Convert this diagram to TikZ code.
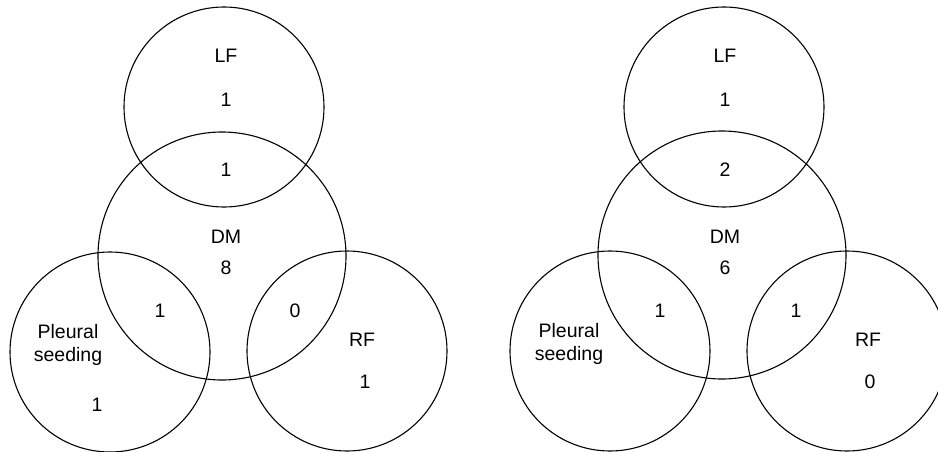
\documentclass[tikz,border=0pt]{standalone}
\usepackage{fontspec}
\setmainfont{Liberation Sans}
\begin{document}
\begin{tikzpicture}[x=1pt,y=-1pt,
  ring/.style={draw=black,line width=1.1pt,circle,inner sep=0pt,minimum size=#1},
  lbl/.style={font=\fontsize{19.5}{23.5}\selectfont,inner sep=0pt,align=center}]
\useasboundingbox (0,0) rectangle (938,452);
% left diagram
\node[ring=200pt] (aLF) at (224,107) {};
\node[ring=248pt] (aDM) at (222,256) {};
\node[ring=200pt] (aPS) at (110,352) {};
\node[ring=200pt] (aRF) at (347,351) {};
\node[lbl] (aLFt) at (226,56) {LF};
\node[lbl] (aLFn) at (226,100) {1};
\node[lbl] (aLD) at (226,170) {1};
\node[lbl] (aDMt) at (226,237) {DM};
\node[lbl] (aDMn) at (226,268) {8};
\node[lbl] (aPD) at (160,311) {1};
\node[lbl] (aRD) at (295,311) {0};
\node[lbl] (aPSt) at (68,345) {Pleural\\seeding};
\node[lbl] (aPSn) at (97,405) {1};
\node[lbl] (aRFt) at (362,340) {RF};
\node[lbl] (aRFn) at (365,382) {1};
% right diagram
\node[ring=200pt] (bLF) at (724,107) {};
\node[ring=248pt] (bDM) at (722,255) {};
\node[ring=200pt] (bPS) at (610,351) {};
\node[ring=200pt] (bRF) at (847,351) {};
\node[lbl] (bLFt) at (725,56) {LF};
\node[lbl] (bLFn) at (725,100) {1};
\node[lbl] (bLD) at (725,170) {2};
\node[lbl] (bDMt) at (725,237) {DM};
\node[lbl] (bDMn) at (725,268) {6};
\node[lbl] (bPD) at (660,311) {1};
\node[lbl] (bRD) at (796,311) {1};
\node[lbl] (bPSt) at (569,344) {Pleural\\seeding};
\node[lbl] (bRFt) at (868,340) {RF};
\node[lbl] (bRFn) at (870,382) {0};
\end{tikzpicture}
\end{document}
